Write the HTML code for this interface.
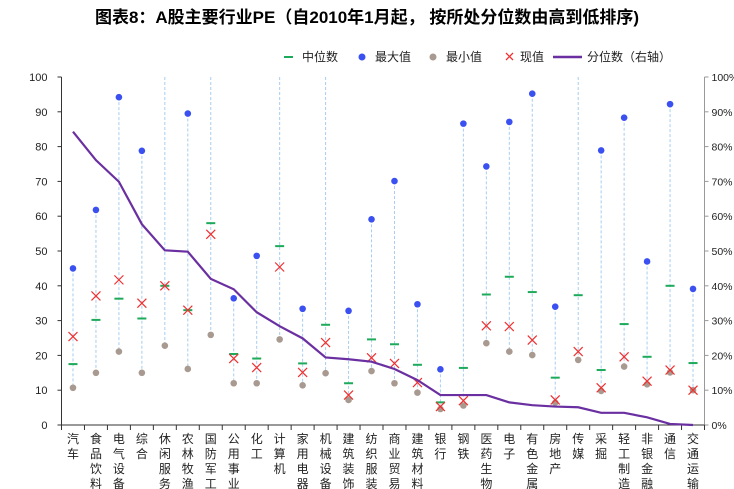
<!DOCTYPE html>
<html><head><meta charset="utf-8">
<style>
body{margin:0;background:#fff;}
svg{display:block;font-family:"Liberation Sans","Noto Sans CJK SC",sans-serif;}
</style></head>
<body>
<svg id="chart" width="734" height="489" xmlns="http://www.w3.org/2000/svg">
<text x="367" y="23" text-anchor="middle" font-size="17" font-weight="bold" fill="#000">图表8：A股主要行业PE（自2010年1月起， 按所处分位数由高到低排序)</text>
<g id="legend" font-size="12" fill="#222">
<g><line x1="284" y1="57" x2="293" y2="57" stroke="#1daa5a" stroke-width="2"/><text x="302" y="61">中位数</text></g>
<g><circle cx="362" cy="57" r="3.5" fill="#3a50f0"/><text x="375" y="61">最大值</text></g>
<g><circle cx="433" cy="57" r="3.5" fill="#a89a90"/><text x="446" y="61">最小值</text></g>
<g><path d="M506 53l7 7M513 53l-7 7" stroke="#f03030" stroke-width="1.3"/><text x="520" y="61">现值</text></g>
<g><line x1="553" y1="57" x2="582" y2="57" stroke="#6a2fa0" stroke-width="2.5"/><text x="587" y="61">分位数（右轴）</text></g>
</g>
<g id="plot"></g>
</svg>
<script>
const categories=["汽车","食品饮料","电气设备","综合","休闲服务","农林牧渔","国防军工","公用事业","化工","计算机","家用电器","机械设备","建筑装饰","纺织服装","商业贸易","建筑材料","银行","钢铁","医药生物","电子","有色金属","房地产","传媒","采掘","轻工制造","非银金融","通信","交通运输"];
const maxValues=[45.0,61.8,94.2,78.8,120,89.5,120,36.4,48.6,120,33.4,120,32.8,59.1,70.1,34.7,16.0,86.6,74.3,87.1,95.2,34.0,120,78.9,88.3,47.0,92.2,39.1];
const medianValues=[17.5,30.2,36.3,30.6,40.0,33.0,58.0,20.4,19.1,51.4,17.7,28.8,12.0,24.6,23.2,17.3,6.5,16.4,37.5,42.6,38.2,13.6,37.3,15.8,29.0,19.6,40.0,17.8];
const minValues=[10.7,15.0,21.1,15.0,22.8,16.1,25.9,12.0,12.0,24.6,11.4,14.9,7.2,15.5,12.0,9.3,4.6,5.6,23.5,21.1,20.1,6.4,18.7,9.8,16.8,11.7,15.1,10.0];
const currentValues=[25.4,37.1,41.7,35.0,40.0,33.0,54.8,19.1,16.5,45.4,15.1,23.7,8.6,19.3,17.7,12.2,5.3,7.0,28.5,28.3,24.4,7.2,21.1,10.7,19.6,12.6,15.8,10.0];
const percentileValues=[84.3,76.1,69.9,57.7,50.2,49.8,42.0,39.0,32.4,28.4,24.9,19.4,18.9,18.2,16.1,12.9,8.6,8.6,8.6,6.5,5.7,5.3,5.1,3.5,3.5,2.2,0.3,0];
const leftTicks=[0,10,20,30,40,50,60,70,80,90,100];
const rightTicks=["0%","10%","20%","30%","40%","50%","60%","70%","80%","90%","100%"];

const NS="http://www.w3.org/2000/svg";
const X0=61.5,X1=704.5,Y0=425,Y1=77;
const band=(X1-X0)/categories.length;
const xs=i=>X0+band*(i+0.5);
const yL=v=>Y0-(v/100)*(Y0-Y1);
const yR=p=>Y0-(p/100)*(Y0-Y1);
const plot=document.getElementById('plot');
function mk(tag,attrs,parent){const e=document.createElementNS(NS,tag);for(const k in attrs)e.setAttribute(k,attrs[k]);(parent||plot).appendChild(e);return e;}

let ax=mk('g',{});


mk('line',{x1:X0,y1:Y1,x2:X0,y2:Y0,stroke:'#333','stroke-width':1},ax);
mk('line',{x1:X1,y1:Y1,x2:X1,y2:Y0,stroke:'#999','stroke-width':1},ax);
mk('line',{x1:X0,y1:Y0,x2:X1,y2:Y0,stroke:'#333','stroke-width':1},ax);
leftTicks.forEach((v,i)=>{
  const y=yL(v);
  mk('line',{x1:X0-4,y1:y,x2:X0,y2:y,stroke:'#333'},ax);
  const t=mk('text',{x:X0-14,y:y+4,'text-anchor':'end','font-size':11,fill:'#222'},ax);
  t.textContent=v;
  
  
  mk('line',{x1:X1,y1:y,x2:X1+4,y2:y,stroke:'#999'},ax);
  const r=mk('text',{x:X1+7,y:y+4,'font-size':10.5,fill:'#222'},ax);
  r.textContent=rightTicks[i];
  
  
});
for(let i=0;i<=categories.length;i++){
  mk('line',{x1:X0+band*i,y1:Y0,x2:X0+band*i,y2:Y0+5,stroke:'#333'},ax);
}
categories.forEach((c,i)=>{
  const t=mk('text',{x:xs(i),'text-anchor':'middle','font-size':12,fill:'#222'},ax);
  
  
  [...c].forEach((ch,j)=>{const s=mk('tspan',{x:xs(i),y:443+j*15},t);s.textContent=ch;});
});

categories.forEach((c,i)=>{
  const x=xs(i);
  const g=mk('g',{});
  
  
  const top=Math.max(yL(maxValues[i]),Y1);
  const ln=mk('line',{x1:x,y1:top,x2:x,y2:yL(minValues[i]),stroke:'#a8cdf0','stroke-width':1,'stroke-dasharray':'3,2'},g);
  
  
  if(maxValues[i]<=100){
    const m=mk('circle',{cx:x,cy:yL(maxValues[i]),r:3.3,fill:'#3a50f0'},g);
    
    
  }
  const mn=mk('circle',{cx:x,cy:yL(minValues[i]),r:3.3,fill:'#a89a90'},g);
  
  
  const md=mk('line',{x1:x-4.5,y1:yL(medianValues[i]),x2:x+4.5,y2:yL(medianValues[i]),stroke:'#1daa5a','stroke-width':2},g);
  
  
  const cy=yL(currentValues[i]);
  const cu=mk('path',{d:`M${x-4.5} ${cy-4.5}l9 9M${x+4.5} ${cy-4.5}l-9 9`,stroke:'#f03030','stroke-width':1.2,fill:'none'},g);
  
  
});

const pts=percentileValues.map((p,i)=>xs(i)+','+yR(p)).join(' ');
const pl=mk('polyline',{points:pts,fill:'none',stroke:'#6a2fa0','stroke-width':2.2});


</script>
</body></html>
